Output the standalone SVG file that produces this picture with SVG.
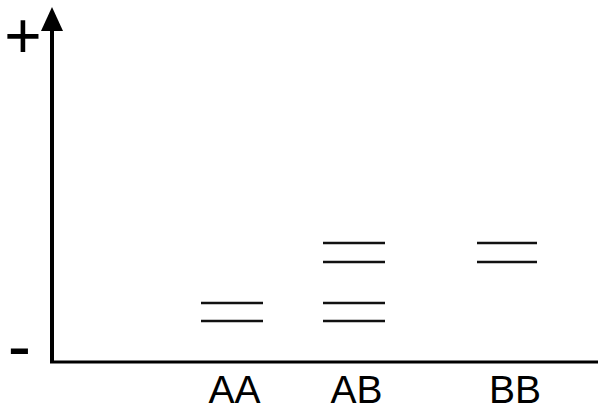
<svg xmlns="http://www.w3.org/2000/svg" width="600" height="414" viewBox="0 0 600 414">
<style>
.lbl{font-family:"Liberation Sans",Arial,sans-serif;font-size:39px;fill:#000;text-anchor:middle}
.sign{font-family:"Liberation Sans",Arial,sans-serif;fill:#000;text-anchor:middle}
.band{stroke:#111;stroke-width:2.6;fill:none}
.axis{stroke:#000;fill:none}
</style>
<rect width="600" height="414" fill="#fff"/>
<g id="axes">
<line class="axis" x1="52" y1="362" x2="52" y2="28" stroke-width="4"/>
<polygon points="52,7 41,31 63,31" fill="#000"/>
<line class="axis" x1="50" y1="362" x2="598" y2="362" stroke-width="3"/>
</g>
<text class="sign" x="23" y="58" font-size="64">+</text>
<text class="sign" x="19.5" y="370" font-size="70">-</text>
<g id="AA">
<line class="band" x1="201" y1="303" x2="263" y2="303"/>
<line class="band" x1="201" y1="321" x2="263" y2="321"/>
<text class="lbl" x="234.5" y="403">AA</text>
</g>
<g id="AB">
<line class="band" x1="323" y1="243" x2="385" y2="243"/>
<line class="band" x1="323" y1="262" x2="385" y2="262"/>
<line class="band" x1="323" y1="303" x2="385" y2="303"/>
<line class="band" x1="323" y1="321" x2="385" y2="321"/>
<text class="lbl" x="356.5" y="403">AB</text>
</g>
<g id="BB">
<line class="band" x1="477" y1="243" x2="537" y2="243"/>
<line class="band" x1="477" y1="262" x2="537" y2="262"/>
<text class="lbl" x="515" y="403">BB</text>
</g>
</svg>
